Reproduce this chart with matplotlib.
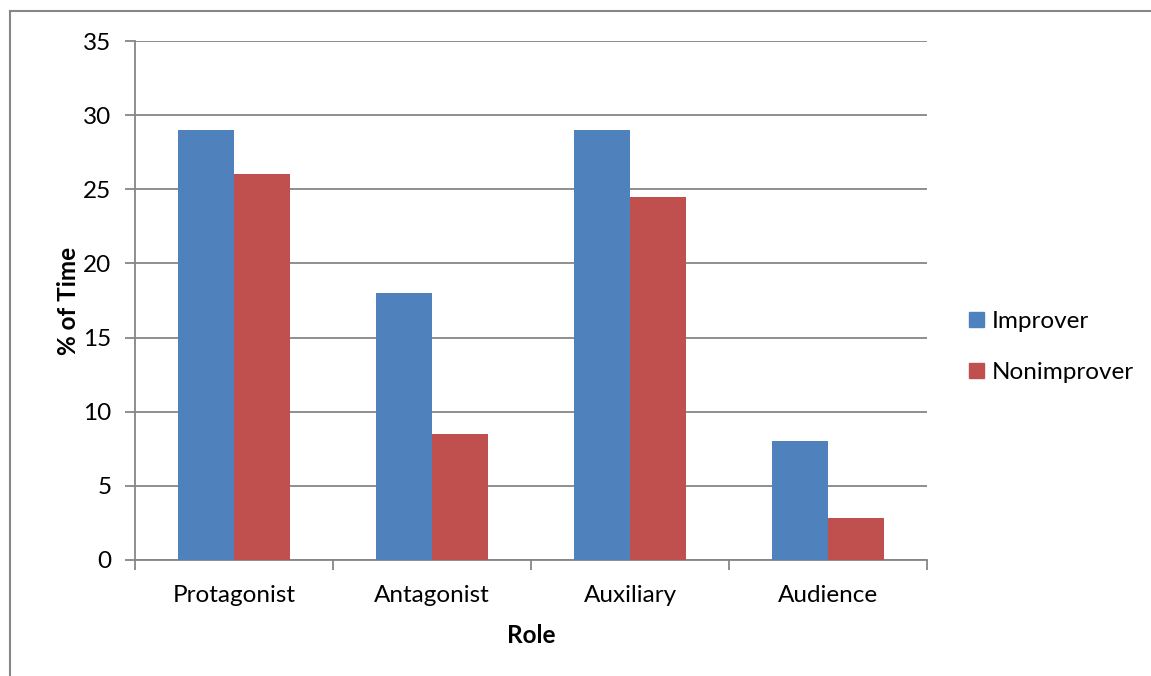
import matplotlib.pyplot as plt
import numpy as np
from matplotlib.lines import Line2D
from matplotlib.patches import Patch

plt.rcParams['font.family'] = ['Lato', 'DejaVu Sans']

roles = ['Protagonist', 'Antagonist', 'Auxiliary', 'Audience']
improver = [29, 18, 29, 8]
nonimprover = [26, 8.5, 24.5, 2.8]
y_ticks = [0, 5, 10, 15, 20, 25, 30, 35]

blue = '#4F81BD'
red = '#C0504D'
grey = '#868686'
fs = 17.5

fig = plt.figure(figsize=(11.51, 6.76), dpi=100)
ax = fig.add_axes([135 / 1151, 1 - 560 / 676, (927 - 135) / 1151, (560 - 41) / 676])

x = np.arange(len(roles))
w = 0.285
ax.bar(x - w / 2, improver, w, color=blue, label='Improver', zorder=3)
ax.bar(x + w / 2, nonimprover, w, color=red, label='Nonimprover', zorder=3)

ax.set_xlim(-0.5, len(roles) - 0.5)
ax.set_ylim(0, 35)
ax.set_yticks(y_ticks)
ax.yaxis.grid(True, color=grey, linewidth=1.3, zorder=0)
ax.set_axisbelow(True)

# category labels sit between the boundary ticks
ax.set_xticks(np.arange(-0.5, len(roles)), minor=False)
ax.set_xticklabels([])
ax.set_xticks(x, minor=True)
ax.set_xticklabels(roles, minor=True, fontsize=fs)
ax.tick_params(axis='x', which='minor', length=0, pad=18)
ax.tick_params(axis='x', which='major', length=7, width=1.3, color=grey, direction='out')
ax.tick_params(axis='y', length=7, width=1.3, color=grey, direction='out', labelsize=fs, pad=10)

for side in ['top', 'right']:
    ax.spines[side].set_visible(False)
for side in ['left', 'bottom']:
    ax.spines[side].set_color(grey)
    ax.spines[side].set_linewidth(1.3)

ax.set_xlabel('Role', fontsize=fs, fontweight='bold', labelpad=13)
ax.set_ylabel('% of Time', fontsize=fs, fontweight='bold', labelpad=2)

handles = [Patch(color=blue), Patch(color=red)]
fig.legend(handles, ['Improver', 'Nonimprover'], loc='center left',
           bbox_to_anchor=(969 / 1151, 1 - 347 / 676), frameon=False, fontsize=fs,
           handlelength=0.6, handleheight=0.6, handletextpad=0.35, labelspacing=1.25,
           borderpad=0, borderaxespad=0)

# outer chart border
fig.add_artist(Line2D([10 / 1151, 10 / 1151], [0, 1 - 11 / 676], color=grey, linewidth=1.5))
fig.add_artist(Line2D([10 / 1151, 1], [1 - 11 / 676, 1 - 11 / 676], color=grey, linewidth=1.5))

fig.savefig('out.png', dpi=100)
